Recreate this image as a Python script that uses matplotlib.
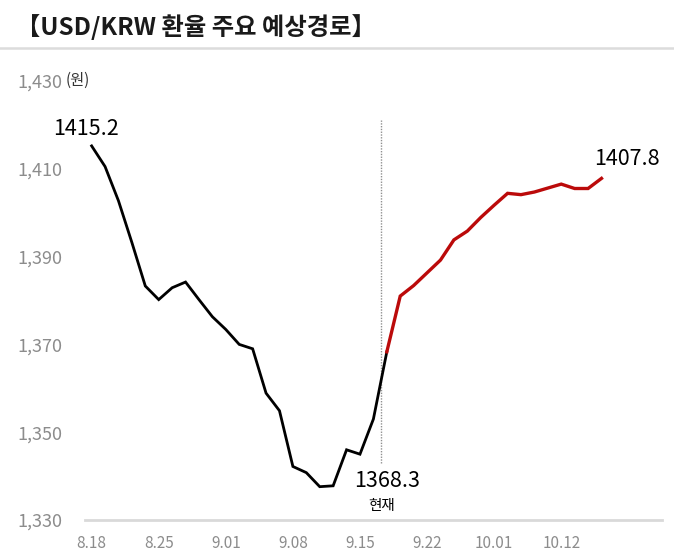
import matplotlib
matplotlib.use("Agg")
import matplotlib.pyplot as plt
from matplotlib.lines import Line2D

plt.rcParams['font.family'] = ['Noto Sans CJK KR', 'DejaVu Sans']

# 거래일 기준 인덱스 (0 = 8.18)
tick_pos = [0, 5, 10, 15, 20, 25, 30, 35]
tick_labels = ['8.18', '8.25', '9.01', '9.08', '9.15', '9.22', '10.01', '10.12']
n_days = 43

# 실제 환율 (8.18 ~ 현재)
actual = [1415.2, 1410.5, 1402.7, 1393.2, 1383.3, 1380.2, 1382.9, 1384.2,
          1380.2, 1376.3, 1373.4, 1370.0, 1369.0, 1358.9, 1354.9, 1342.2,
          1340.8, 1337.6, 1337.8, 1346.0, 1345.0, 1353.0, 1368.3]
# 예상경로 (현재 ~ )
forecast = [1368.3, 1381.0, 1383.4, 1386.3, 1389.2, 1393.8, 1395.8, 1398.9,
            1401.7, 1404.4, 1404.1, 1404.7, 1405.6, 1406.5, 1405.5, 1405.5,
            1407.8]

now_x = 21.6
now_range = (1343, 1421)

fig = plt.figure(figsize=(6.74, 5.58), dpi=100)
ax = fig.add_axes([0.126, 0.068, 0.856, 0.787])

x_act = list(range(len(actual)))
x_fc = list(range(len(actual) - 1, len(actual) - 1 + len(forecast)))

ax.plot([now_x, now_x], now_range, color='#909090', lw=1.0, ls=(0, (1, 1)))
ax.plot(x_act, actual, color='black', lw=2.0, solid_joinstyle='miter')
ax.plot(x_fc, forecast, color='#bb0a0a', lw=2.4, solid_joinstyle='miter')

ax.set_xlim(-0.5, n_days - 0.5)
ax.set_ylim(1330, 1430)
ax.set_yticks([1330, 1350, 1370, 1390, 1410, 1430])
ax.set_yticklabels(['1,330', '1,350', '1,370', '1,390', '1,410', '1,430'])
ax.set_xticks(tick_pos)
ax.set_xticklabels(tick_labels)

for s in ['left', 'right', 'top']:
    ax.spines[s].set_visible(False)
ax.spines['bottom'].set_color('#d9d9d9')
ax.spines['bottom'].set_linewidth(2.0)
ax.tick_params(axis='both', length=0)
ax.tick_params(axis='y', labelsize=13, labelcolor='#8c8c8c', pad=16)
ax.tick_params(axis='x', labelsize=11, labelcolor='#8c8c8c', pad=11)
for t in ax.get_yticklabels() + ax.get_xticklabels():
    t.set_fontweight('light')

# 값 라벨
ax.annotate('1415.2', (x_act[0], actual[0]), xytext=(-4, 4),
            textcoords='offset points', ha='center', va='bottom', fontsize=15.5)
ax.annotate('1407.8', (x_fc[-1], forecast[-1]), xytext=(18, 6),
            textcoords='offset points', ha='center', va='bottom', fontsize=15.5)
ax.text(x_act[-1], 1338.9, '1368.3', ha='center', va='center', fontsize=15.5)
ax.text(now_x, 1333.2, '현재', ha='center', va='center', fontsize=10.5)
ax.text(66 / 674, 1 - 80 / 558, '(원)', transform=fig.transFigure,
        ha='left', va='center', fontsize=11, color='#333333')

# 제목
fig.text(0.024, 1 - 27 / 558, '【USD/KRW 환율 주요 예상경로】', ha='left', va='center',
         fontsize=17.5, fontweight='bold', color='#1a1a1a')
fig.add_artist(Line2D([0, 1], [1 - 48 / 558, 1 - 48 / 558], transform=fig.transFigure,
                      color='#dcdcdc', lw=1.8))

fig.savefig('out.png', dpi=100)
